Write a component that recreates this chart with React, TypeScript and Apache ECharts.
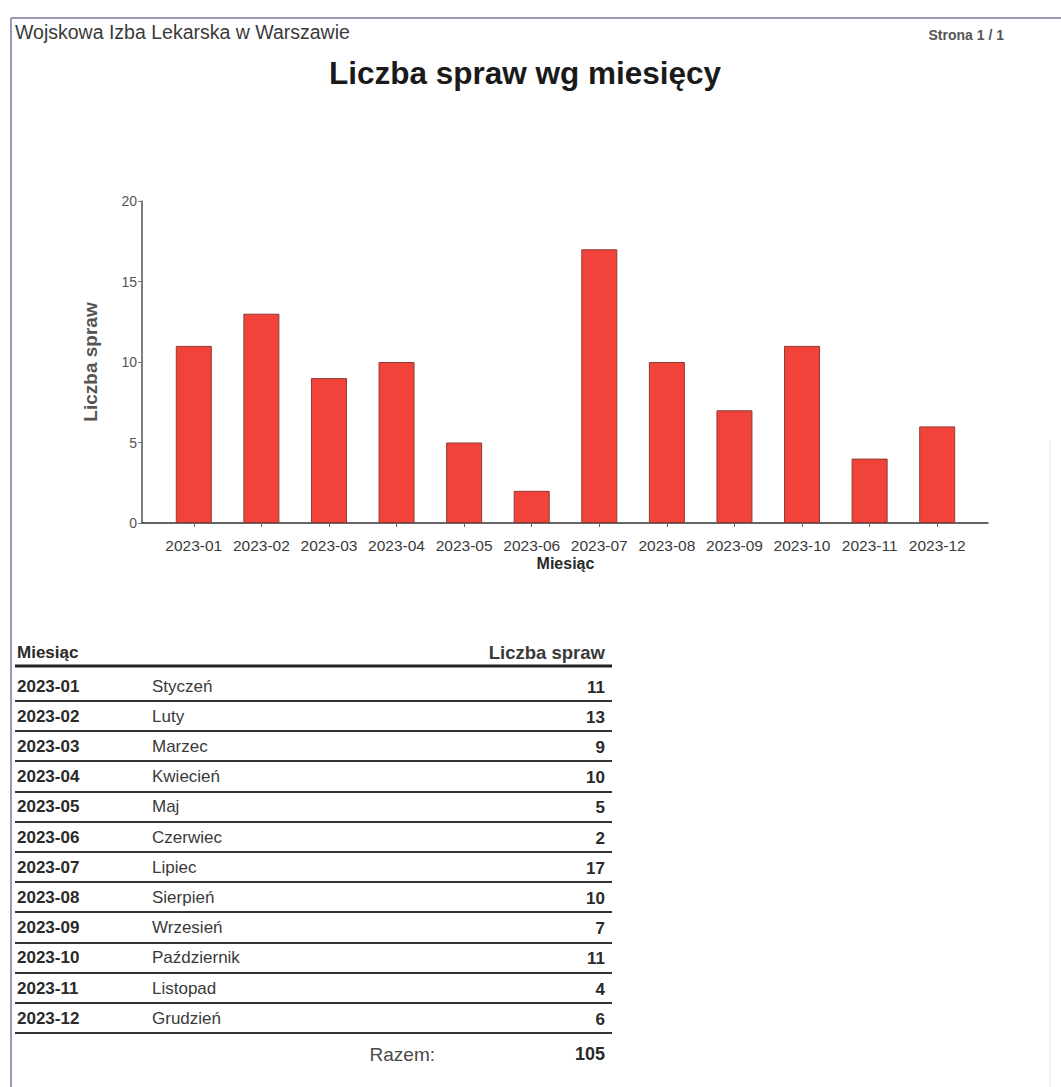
import React, { useEffect, useRef } from 'react';
import * as echarts from 'echarts';

const months = ['2023-01', '2023-02', '2023-03', '2023-04', '2023-05', '2023-06', '2023-07', '2023-08', '2023-09', '2023-10', '2023-11', '2023-12'];
const monthNames = ['Styczeń', 'Luty', 'Marzec', 'Kwiecień', 'Maj', 'Czerwiec', 'Lipiec', 'Sierpień', 'Wrzesień', 'Październik', 'Listopad', 'Grudzień'];
const counts = [11, 13, 9, 10, 5, 2, 17, 10, 7, 11, 4, 6];
const yMin = 0;
const yMax = 20;
const yStep = 5;

const pageHeader = 'Wojskowa Izba Lekarska w Warszawie';
const pageLabel = 'Strona 1 / 1';
const chartTitle = 'Liczba spraw wg miesięcy';
const xName = 'Miesiąc';
const yName = 'Liczba spraw';
const tableHeadLeft = 'Miesiąc';
const tableHeadRight = 'Liczba spraw';
const totalLabel = 'Razem:';

const FONT = '"Liberation Sans", Arial, sans-serif';

export default function App() {
  const ref = useRef<HTMLDivElement>(null);
  useEffect(() => {
    const chart = echarts.init(ref.current!, null, { renderer: 'svg' });
    const total = counts.reduce((a, b) => a + b, 0);
    const els: any[] = [];
    const border = '#9a98b6';
    // page frame
    els.push({ type: 'line', shape: { x1: 11, y1: 18, x2: 1061, y2: 18 }, style: { stroke: border, lineWidth: 2 } });
    els.push({ type: 'line', shape: { x1: 11, y1: 18, x2: 11, y2: 1087 }, style: { stroke: border, lineWidth: 2 } });
    els.push({ type: 'line', shape: { x1: 1050, y1: 440, x2: 1050, y2: 1087 }, style: { stroke: '#e4e4e8', lineWidth: 1 } });
    // header texts
    els.push({ type: 'text', x: 15, y: 32, style: { text: pageHeader, fontFamily: FONT, fontSize: 19.5, fill: '#3a3a3a', align: 'left', verticalAlign: 'middle' } });
    els.push({ type: 'text', x: 1004, y: 35, style: { text: pageLabel, fontFamily: FONT, fontSize: 14, fontWeight: 'bold', fill: '#555', align: 'right', verticalAlign: 'middle' } });
    els.push({ type: 'text', x: 525, y: 73, style: { text: chartTitle, fontFamily: FONT, fontSize: 31.5, fontWeight: 'bold', fill: '#1a1a1a', align: 'center', verticalAlign: 'middle' } });

    // table
    const tLeft = 15;
    const tRight = 612;
    const headY = 652;
    const row0 = 686;
    const step = 30.2;
    els.push({ type: 'text', x: tLeft + 2, y: headY, style: { text: tableHeadLeft, fontFamily: FONT, fontSize: 17, fontWeight: 'bold', fill: '#2a2a2a', align: 'left', verticalAlign: 'middle' } });
    els.push({ type: 'text', x: 605, y: headY, style: { text: tableHeadRight, fontFamily: FONT, fontSize: 18.5, fontWeight: 'bold', fill: '#3a3a3a', align: 'right', verticalAlign: 'middle' } });
    els.push({ type: 'line', shape: { x1: tLeft, y1: 666, x2: tRight, y2: 666 }, style: { stroke: '#222', lineWidth: 3 } });
    months.forEach((m, i) => {
      const y = row0 + step * i;
      els.push({ type: 'text', x: tLeft + 2, y, style: { text: m, fontFamily: FONT, fontSize: 17, fontWeight: 'bold', fill: '#2a2a2a', align: 'left', verticalAlign: 'middle' } });
      els.push({ type: 'text', x: 152, y, style: { text: monthNames[i], fontFamily: FONT, fontSize: 17, fill: '#3a3a3a', align: 'left', verticalAlign: 'middle' } });
      els.push({ type: 'text', x: 605, y: y + 1, style: { text: String(counts[i]), fontFamily: FONT, fontSize: 17, fontWeight: 'bold', fill: '#2a2a2a', align: 'right', verticalAlign: 'middle' } });
      const ly = Math.round(y + 15);
      els.push({ type: 'line', shape: { x1: tLeft, y1: ly, x2: tRight, y2: ly }, style: { stroke: '#333', lineWidth: 2 } });
    });
    const totY = row0 + step * 12 + 6;
    els.push({ type: 'text', x: 435, y: totY, style: { text: totalLabel, fontFamily: FONT, fontSize: 19, fill: '#4a4a4a', align: 'right', verticalAlign: 'middle' } });
    els.push({ type: 'text', x: 605, y: totY, style: { text: String(total), fontFamily: FONT, fontSize: 18, fontWeight: 'bold', fill: '#2a2a2a', align: 'right', verticalAlign: 'middle' } });

    chart.setOption({
      animation: false,
      backgroundColor: '#ffffff',
      textStyle: { fontFamily: FONT },
      grid: [
        { left: 142, right: 73, top: 201, height: 322 },
        { left: 160, right: 90, top: 201, height: 322 },
      ],
      xAxis: [
        {
          gridIndex: 0, type: 'value', min: 0, max: 1,
          axisLine: { show: true, lineStyle: { color: '#333', width: 1.5 } },
          axisTick: { show: false }, axisLabel: { show: false }, splitLine: { show: false },
        },
        {
          gridIndex: 1, type: 'category', data: months,
          axisLine: { show: false },
          axisTick: { show: true, alignWithLabel: true, length: 4, lineStyle: { color: '#666' } },
          axisLabel: { interval: 0, fontSize: 15.5, color: '#3a3a3a', margin: 14, fontFamily: FONT },
          name: xName, nameLocation: 'middle', nameGap: 32,
          nameTextStyle: { fontSize: 16, fontWeight: 'bold', color: '#2a2a2a', fontFamily: FONT },
        },
      ],
      yAxis: [
        {
          gridIndex: 0, type: 'value', min: yMin, max: yMax, interval: yStep,
          axisLine: { show: true, lineStyle: { color: '#555', width: 1.5 } },
          axisTick: { show: true, length: 4, lineStyle: { color: '#777' } },
          axisLabel: { fontSize: 14, color: '#555', margin: 5, fontFamily: FONT },
          splitLine: { show: false },
          name: yName, nameLocation: 'middle', nameGap: 42,
          nameTextStyle: { fontSize: 19, fontWeight: 'bold', color: '#555', fontFamily: FONT },
        },
        {
          gridIndex: 1, type: 'value', min: yMin, max: yMax, interval: yStep, show: false,
        },
      ],
      series: [
        {
          type: 'bar', xAxisIndex: 1, yAxisIndex: 1, data: counts, barWidth: 36,
          itemStyle: { color: '#f2433a', borderColor: '#8e3a32', borderWidth: 1 },
        },
      ],
      graphic: { elements: els },
    });
    return () => chart.dispose();
  }, []);
  return <div ref={ref} style={{ position: 'absolute', left: 0, top: 0, width: 1061, height: 1087, background: '#fff' }} />;
}
